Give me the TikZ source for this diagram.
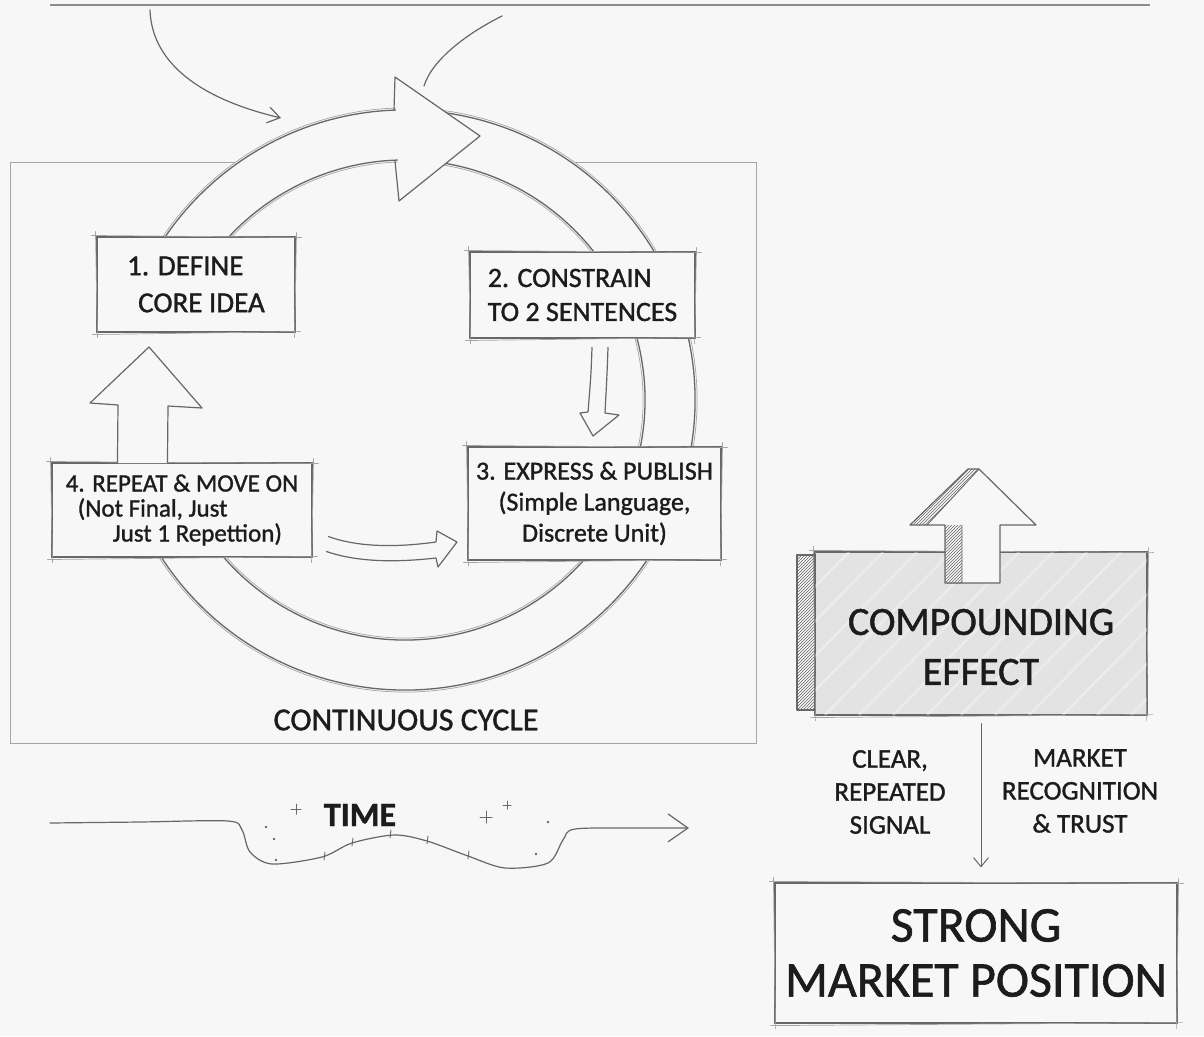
\documentclass[tikz,border=0pt]{standalone}
\usepackage{fontspec}
\setmainfont{Carlito}[FakeBold=1.2]
\usetikzlibrary{arrows.meta,patterns,calc}
\definecolor{bgc}{HTML}{F7F7F7}
\definecolor{lnc}{HTML}{676767}
\definecolor{lnl}{HTML}{A5A5A5}
\definecolor{txc}{HTML}{1C1C1C}
\definecolor{cfc}{HTML}{E3E3E3}
\newcommand\myfs[2]{\fontsize{#1pt}{#2pt}\selectfont}
\newcommand\skbox[1]{%
 \draw[skf] ([shift={(-5,-1)}]#1.north west) -- ([shift={(6,1)}]#1.north east);
 \draw[skf] ([shift={(-4,2)}]#1.south west) -- ([shift={(5,-1)}]#1.south east);
 \draw[skf] ([shift={(-1,-5)}]#1.north west) -- ([shift={(1,5)}]#1.south west);
 \draw[skf] ([shift={(1,-4)}]#1.north east) -- ([shift={(-1,5)}]#1.south east);
}
\begin{document}
\begin{tikzpicture}[x=1pt,y=-1pt,
  skl/.style={draw=lnc,line width=1.2pt,line cap=round,line join=round},
  skf/.style={draw=lnl,line width=0.7pt,line cap=round},
  boxn/.style={fill=bgc,draw=lnc,line width=1.1pt,inner sep=0pt,text=txc},
  txt/.style={text=txc,inner sep=0pt},
  ringl/.style={draw=lnc,line width=1.3pt},
  ringf/.style={draw=lnl,line width=0.7pt}]
\useasboundingbox (0,0) rectangle (1204,1036);
\fill[bgc] (0,0) rectangle (1204,1036);

% top rule
\draw[draw=lnl!85!black,line width=2.6pt] (50,5) -- (1150,5);

% frame
\draw[draw=lnl,line width=0.9pt] (10,162) rectangle (756,743);

% incoming curves
\coordinate (ca0) at (150,10);
\coordinate (ca1) at (281,118);
\draw[skl,-{Straight Barb[length=12pt,width=16pt]}] (ca0) .. controls (152,66) and (205,100) .. (ca1);
\coordinate (cb0) at (502,16);
\coordinate (cb1) at (424,86);
\draw[skl] (cb0) .. controls (466,34) and (432,60) .. (cb1);

% ring
\fill[bgc] (405,400) circle[radius=292pt];
\draw[ringl] (405,400) ++(194:290) arc[start angle=194,end angle=527,radius=290];
\draw[ringf] (405,400) ++(196:292) arc[start angle=196,end angle=520,radius=292];
\draw[ringl] (405,400) ++(196:240) arc[start angle=196,end angle=525,radius=240];
\draw[ringf] (405,400) ++(200:238) arc[start angle=200,end angle=520,radius=238];

% ring arrowhead
\fill[bgc] (395,77) -- (480,136) -- (399,201) -- cycle;
\draw[skl] (394,110) -- (395,77) -- (480,136) -- (399,201) -- (395,161);

% boxes
\node[boxn,minimum width=198pt,minimum height=95pt,font=\myfs{29}{37},align=left] (b1) at (196,284.5) {1. DEFINE\\\hspace*{11pt}CORE IDEA};
\node[boxn,minimum width=225pt,minimum height=86pt,font=\myfs{28}{34},align=left] (b2) at (582.5,295) {2. CONSTRAIN\\TO 2 SENTENCES};
\node[boxn,minimum width=253pt,minimum height=113pt,font=\myfs{26}{31},align=center] (b3) at (594.5,503.5) {3. EXPRESS \& PUBLISH\\(Simple Language,\\Discrete Unit)};
\node[boxn,minimum width=260pt,minimum height=94pt,font=\myfs{25}{25},align=left] (b4) at (182,510) {4. REPEAT \& MOVE ON\\\hspace*{12pt}(Not Final, Just\\\hspace*{47pt}Just 1 Repettion)};
\skbox{b1}\skbox{b2}\skbox{b3}\skbox{b4}

% hollow arrows between steps
\fill[bgc] (118,463) -- (118,405) -- (90,403) -- (149,347) -- (202,408) -- (168,406) -- (168,463) -- cycle;
\draw[skl] ($(b4.north west)+(66,0)$) -- (118,405) -- (90,403) -- (149,347) -- (202,408) -- (168,406) -- ($(b4.north west)+(116,0)$);

\draw[skl] ($(b2.south)+(9.5,9)$) .. controls (591,375) .. (588,412) -- (580,413) -- (593,436) -- (619,415) -- (605,413) .. controls (607,375) .. ($(b2.south)+(25.5,9)$);

\draw[skl] ($(b4.south east)+(16,-21)$) .. controls (360,548) and (400,547) .. (436,542) -- (437,531) -- (457,542) -- (438,567) -- (436,558) .. controls (400,562) and (360,563) .. ($(b4.south east)+(14,-6)$);

% cycle label
\node[txt,font=\myfs{32}{36}] (cyc) at (406,720) {CONTINUOUS CYCLE};

% time axis
\draw[skl,-{Straight Barb[length=20pt,width=28pt]}] plot[smooth,tension=0.5] coordinates {(50,823) (140,822) (228,821) (242,830) (250,852) (272,864) (322,857) (352,843) (394,835) (427,841) (468,856) (505,868) (548,863) (563,840) (575,829) (640,828) (689,828)};
\node[txt,font=\myfs{34}{36}\bfseries] (time) at (360,815) {TIME};
\foreach \px/\py in {324/857,352/843,390/835,427/841,468/856}
  \draw[skl,line width=0.9pt] (\px,\py+3) -- (\px+1,\py-5);
\draw[skl,line width=1pt] (291,809) -- (301,809) (296,804) -- (296,814);
\draw[skl,line width=1pt] (480,817) -- (492,817) (486,811) -- (486,823);
\draw[skl,line width=1pt] (503,805) -- (511,805) (507,801) -- (507,809);
\foreach \px/\py in {266/827,274/839,276/860,548/822,536/854}
  \fill[lnc] (\px,\py) circle[radius=1.3pt];

% compounding effect
\node[draw=lnc,fill=cfc,line width=1.2pt,minimum width=332pt,minimum height=163pt,inner sep=0pt] (comp) at (981,633.5) {};
\begin{scope}
 \clip (815,552) rectangle (1147,715);
 \foreach \i in {-160,-126,...,340}
   \draw[draw=white,opacity=0.35,line width=2.5pt] (815+\i,715) -- ++(160,-163);
\end{scope}
\skbox{comp}
\fill[pattern=north east lines,pattern color=lnc] (797,555) rectangle (815,710);
\draw[skl] (815,555) -- (797,555) -- (797,710) -- (815,710);
% up arrow on box
\fill[bgc] (945,583) -- (945,525) -- (910,525) -- (968,469) -- (979,469) -- (1036,525) -- (1000,525) -- (1000,583) -- cycle;
\fill[pattern=north east lines,pattern color=lnc] (910,525) -- (968,469) -- (979,469) -- (927,525) -- cycle;
\fill[pattern=north east lines,pattern color=lnc] (945,525) rectangle (962,583);
\draw[skl] (945,583) -- (945,525) -- (910,525) -- (968,469) -- (979,469) -- (1036,525) -- (1000,525) -- (1000,583) -- cycle;
\draw[skl,line width=0.9pt] (927,525) -- (979,469) (962,525) -- (962,583);
\node[txt,font=\myfs{40}{50},align=center] (compt) at (981,647) {COMPOUNDING\\EFFECT};

% labels
\node[txt,font=\myfs{27}{33},align=center] (sigl) at (890,792) {CLEAR,\\REPEATED\\SIGNAL};
\node[txt,font=\myfs{27}{33},align=center] (sigr) at (1080,791) {MARKET\\RECOGNITION\\\& TRUST};

% strong market position
\node[boxn,line width=1.2pt,minimum width=402pt,minimum height=140pt,font=\myfs{50}{55},align=center] (strong) at (976,953) {STRONG\\MARKET POSITION};
\skbox{strong}

\draw[skl,line width=1pt,-{Straight Barb[length=9pt,width=15pt]},shorten <=8pt,shorten >=15pt] (comp.south) -- (comp.south |- strong.north);
\end{tikzpicture}
\end{document}
